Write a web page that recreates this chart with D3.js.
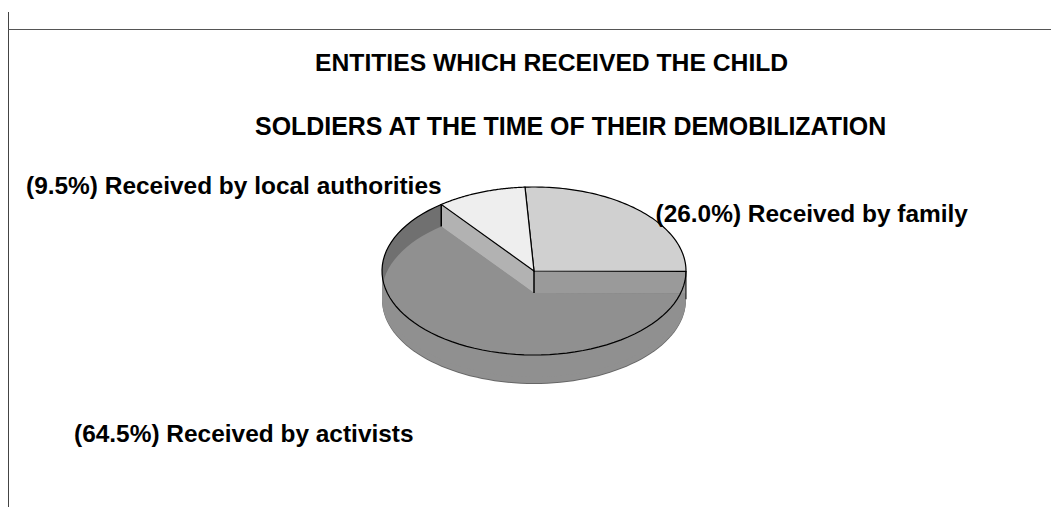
<!DOCTYPE html>
<html><head><meta charset="utf-8">
<script src="https://cdn.jsdelivr.net/npm/d3@7"></script>
<style>html,body{margin:0;padding:0;background:#fff}svg{display:block}
text{font-family:"Liberation Sans",Arial,sans-serif;font-weight:bold;fill:#000}</style>
</head><body><div id="c"></div>
<script>
const categories = ["Received by family","Received by activists","Received by local authorities"];
const values = [26.0,64.5,9.5];
const titleLines = ["ENTITIES WHICH RECEIVED THE CHILD","SOLDIERS AT THE TIME OF THEIR DEMOBILIZATION"];
const topColors = ["#d0d0d0","#909090","#eeeeee"];

const W=1051,H=507;
const svg=d3.select("#c").append("svg").attr("width",W).attr("height",H);
const sx=d3.scaleLinear().domain([-1,1]).range([382,686]);
const sy=d3.scaleLinear().domain([-1,1]).range([187,355]);
const wallDrop=22, sideDrop=28;
const START=-3.4*Math.PI/180;
const arcs=d3.pie().sort(null).value(d=>d).startAngle(START).endAngle(START+2*Math.PI)(values);
const pt=(a,dy=0)=>[sx(Math.sin(a)),sy(-Math.cos(a))+dy];
const line=d3.line();
const rim=(a0,a1,dy=0)=>d3.range(0,73).map(i=>pt(a0+(a1-a0)*i/72,dy));
const centre=(dy=0)=>[sx(0),sy(0)+dy];
const sector=(s,dy=0)=>[centre(dy),...rim(s.startAngle,s.endAngle,dy)];
const [fam,act,loc]=arcs;

// body (side of the drum)
const bodyPts=[...rim(Math.PI/2,3*Math.PI/2,sideDrop),...rim(3*Math.PI/2,Math.PI/2+2*Math.PI,0)];
svg.append("path").attr("d",line(rim(Math.PI/2,3*Math.PI/2,sideDrop+1))+"Z").attr("fill","#666");
svg.append("path").attr("d",line(bodyPts)+"Z").attr("fill","#909090");
// recessed big slice: dark rim, then lowered surface
svg.append("path").attr("d",line(sector(act))+"Z").attr("fill","#707070");
svg.append("path").attr("d",line(sector(act,wallDrop))+"Z").attr("fill","#909090");
// cut walls
svg.append("path").attr("d",line([centre(),pt(fam.endAngle),pt(fam.endAngle,wallDrop),centre(wallDrop)])+"Z").attr("fill","#9a9a9a");
svg.append("path").attr("d",line([centre(),pt(act.endAngle),pt(act.endAngle,wallDrop),centre(wallDrop)])+"Z").attr("fill","#b2b2b2");
// upper slices
[fam,loc].forEach(s=>svg.append("path").attr("d",line(sector(s))+"Z").attr("fill",topColors[arcs.indexOf(s)]).attr("stroke","#000").attr("stroke-width",1.2));
// outlines
svg.append("path").attr("d",line(rim(act.startAngle,act.endAngle))).attr("fill","none").attr("stroke","#000").attr("stroke-width",1.2);
svg.append("path").attr("d",line([centre(),centre(wallDrop)])).attr("stroke","#000").attr("stroke-width",1.5);
svg.append("path").attr("d",line([pt(act.endAngle),pt(act.endAngle,wallDrop)])).attr("stroke","#000").attr("stroke-width",1.5);
svg.append("path").attr("d",line([pt(fam.endAngle),pt(fam.endAngle,sideDrop)])).attr("stroke","#000").attr("stroke-width",1);

// frame lines
svg.append("line").attr("x1",8.5).attr("x2",8.5).attr("y1",12).attr("y2",507).attr("stroke","#444");
svg.append("line").attr("x1",8).attr("x2",W).attr("y1",29.5).attr("y2",29.5).attr("stroke","#555");

// titles
const titlePos=[[315,71],[255,135]];
const titleSize=[24.7,24.95];
svg.selectAll(".t").data(titleLines).join("text").attr("class","t").attr("x",(d,i)=>titlePos[i][0]).attr("y",(d,i)=>titlePos[i][1]).style("font-size",(d,i)=>titleSize[i]+"px").text(d=>d);
// labels
const labelPos=[[655.5,222],[74,442],[26,194]];
svg.selectAll(".l").data(categories).join("text").attr("class","l").attr("x",(d,i)=>labelPos[i][0]).attr("y",(d,i)=>labelPos[i][1]).style("font-size","24.45px").text((d,i)=>`(${values[i].toFixed(1)}%) ${d}`);
</script></body></html>
